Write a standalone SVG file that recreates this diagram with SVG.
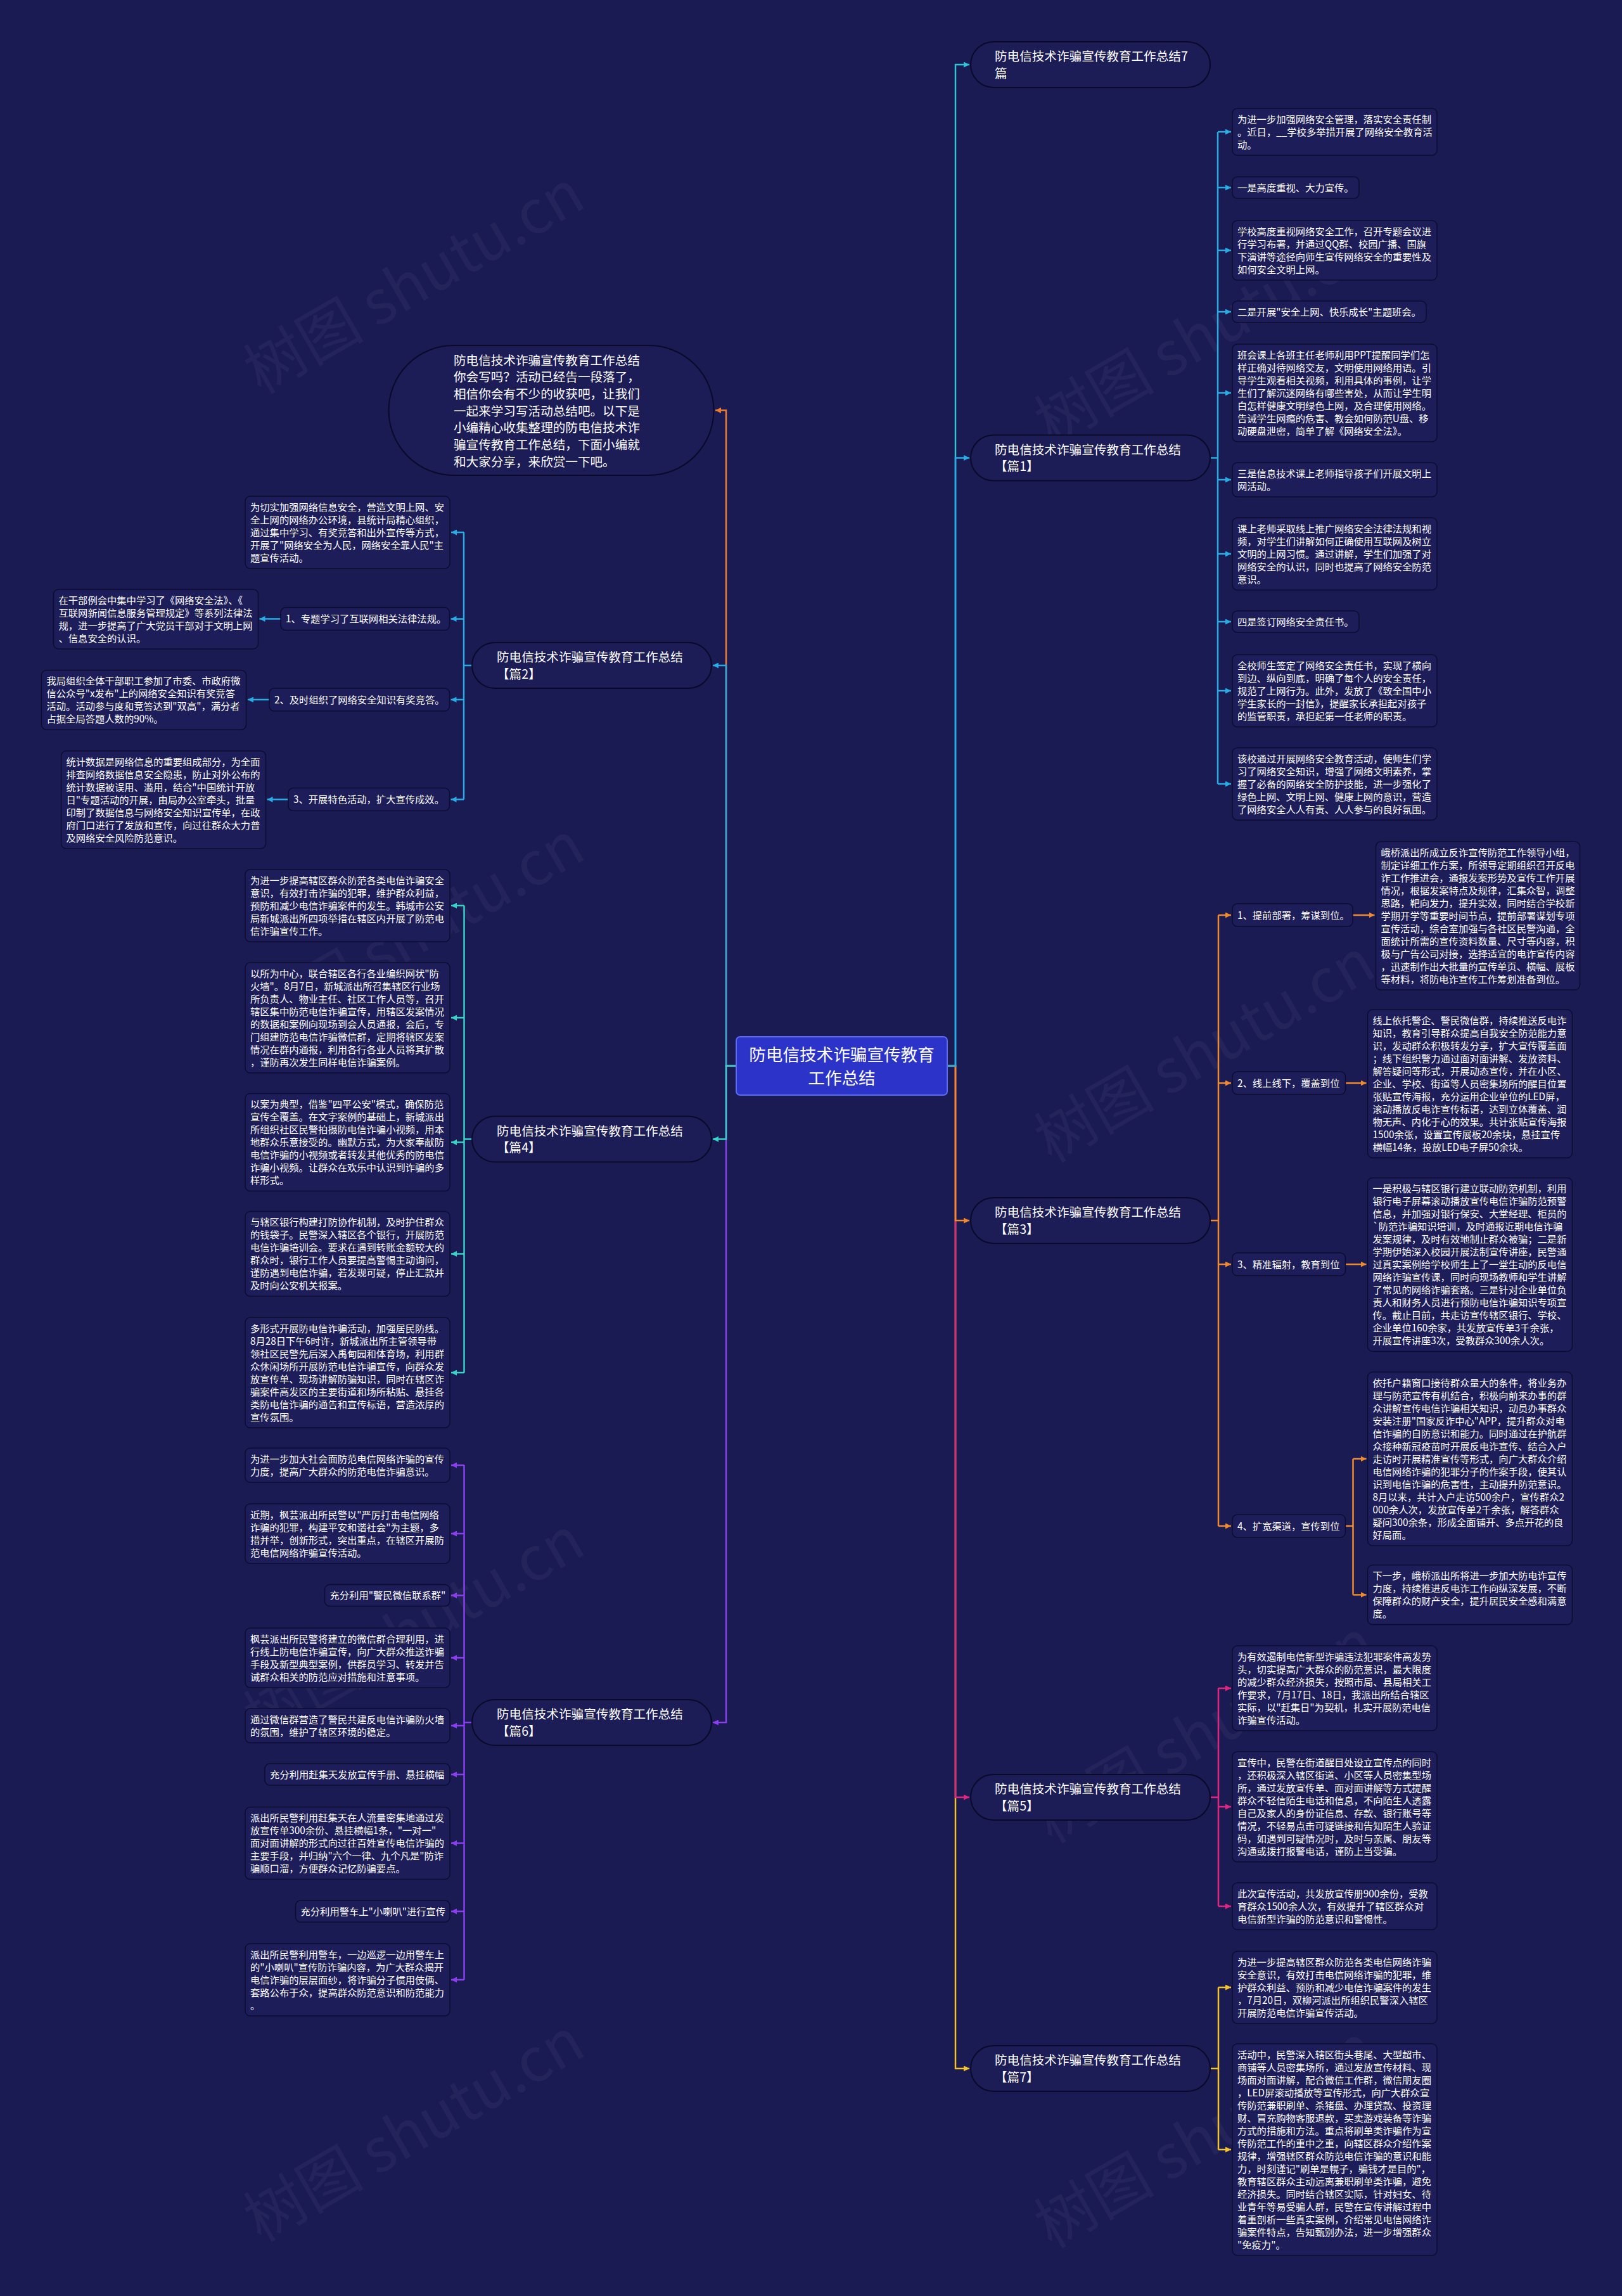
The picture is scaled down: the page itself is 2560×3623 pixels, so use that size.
<svg xmlns="http://www.w3.org/2000/svg" width="2560" height="3623" viewBox="0 0 2560 3623">
<style>
.t{font-family:"Noto Sans CJK SC","Noto Sans",sans-serif;font-size:15.3px;fill:#ffffff}
.l1{font-family:"Noto Sans CJK SC","Noto Sans",sans-serif;font-size:19.6px;fill:#ffffff}
.ct{font-family:"Noto Sans CJK SC","Noto Sans",sans-serif;font-size:26.6px;fill:#ffffff}
.box{fill:#1d1d5a;stroke:#0c0c30;stroke-width:1.5}
.pill{fill:#1c1c56;stroke:#0a0a28;stroke-width:2}
.wm{font-family:"Noto Sans CJK SC","Noto Sans",sans-serif;font-size:95px;fill:#ffffff;fill-opacity:0.045}
.conn path{fill:none;stroke-width:2.5}
.c-teal7{stroke:#31c3d6}.c-p1{stroke:#29abe4}.c-p3{stroke:#f08a2c}.c-p5{stroke:#e1267f}.c-p7{stroke:#f3c52a}
.c-in{stroke:#ee7c2f}.c-p2{stroke:#29abe4}.c-p4{stroke:#35d4c5}.c-p6{stroke:#8b3ef0}
</style>
<defs>
<marker id="a-teal7" viewBox="0 0 10 10" refX="10" refY="5" markerWidth="9" markerHeight="9" markerUnits="userSpaceOnUse" orient="auto"><path d="M0,0L10,5L0,10z" fill="#31c3d6"/></marker>
<marker id="a-p1" viewBox="0 0 10 10" refX="10" refY="5" markerWidth="9" markerHeight="9" markerUnits="userSpaceOnUse" orient="auto"><path d="M0,0L10,5L0,10z" fill="#29abe4"/></marker>
<marker id="a-p3" viewBox="0 0 10 10" refX="10" refY="5" markerWidth="9" markerHeight="9" markerUnits="userSpaceOnUse" orient="auto"><path d="M0,0L10,5L0,10z" fill="#f08a2c"/></marker>
<marker id="a-p5" viewBox="0 0 10 10" refX="10" refY="5" markerWidth="9" markerHeight="9" markerUnits="userSpaceOnUse" orient="auto"><path d="M0,0L10,5L0,10z" fill="#e1267f"/></marker>
<marker id="a-p7" viewBox="0 0 10 10" refX="10" refY="5" markerWidth="9" markerHeight="9" markerUnits="userSpaceOnUse" orient="auto"><path d="M0,0L10,5L0,10z" fill="#f3c52a"/></marker>
<marker id="a-in" viewBox="0 0 10 10" refX="10" refY="5" markerWidth="9" markerHeight="9" markerUnits="userSpaceOnUse" orient="auto"><path d="M0,0L10,5L0,10z" fill="#ee7c2f"/></marker>
<marker id="a-p4" viewBox="0 0 10 10" refX="10" refY="5" markerWidth="9" markerHeight="9" markerUnits="userSpaceOnUse" orient="auto"><path d="M0,0L10,5L0,10z" fill="#35d4c5"/></marker>
<marker id="a-p6" viewBox="0 0 10 10" refX="10" refY="5" markerWidth="9" markerHeight="9" markerUnits="userSpaceOnUse" orient="auto"><path d="M0,0L10,5L0,10z" fill="#8b3ef0"/></marker>
</defs>
<rect x="0" y="0" width="2560" height="3623" fill="#1b1b53"/>

<g id="watermark">
<text class="wm" transform="translate(670,474) rotate(-30)" text-anchor="middle">树图 shutu.cn</text>
<text class="wm" transform="translate(1918,555) rotate(-30)" text-anchor="middle">树图 shutu.cn</text>
<text class="wm" transform="translate(670,1502) rotate(-30)" text-anchor="middle">树图 shutu.cn</text>
<text class="wm" transform="translate(1918,1687) rotate(-30)" text-anchor="middle">树图 shutu.cn</text>
<text class="wm" transform="translate(670,2599) rotate(-30)" text-anchor="middle">树图 shutu.cn</text>
<text class="wm" transform="translate(1918,2761) rotate(-30)" text-anchor="middle">树图 shutu.cn</text>
<text class="wm" transform="translate(670,3390) rotate(-30)" text-anchor="middle">树图 shutu.cn</text>
<text class="wm" transform="translate(1918,3400) rotate(-30)" text-anchor="middle">树图 shutu.cn</text>
</g>

<g id="connectors" class="conn">
<path class="c-p7" d="M1495,1682H1508V3264H1530" marker-end="url(#a-p7)"/>
<path class="c-p5" d="M1495,1682H1508V2836H1530" marker-end="url(#a-p5)"/>
<path class="c-p3" d="M1495,1682H1508V1926H1530" marker-end="url(#a-p3)"/>
<path class="c-teal7" d="M1495,1682H1508V102H1530" marker-end="url(#a-teal7)"/>
<path class="c-p1" d="M1495,1682H1508V722.5H1530" marker-end="url(#a-p1)"/>
<path class="c-in" d="M1162,1682H1146V647.5H1129" marker-end="url(#a-in)"/>
<path class="c-p2" d="M1162,1682H1146V1050H1125" marker-end="url(#a-p1)"/>
<path class="c-p6" d="M1162,1682H1146V2718H1125" marker-end="url(#a-p6)"/>
<path class="c-p4" d="M1162,1682H1146V1797.5H1125" marker-end="url(#a-p4)"/>
<path class="c-p1" d="M1910,722.5H1922M1922,208V1237"/>
<path class="c-p1" d="M1922,208H1943" marker-end="url(#a-p1)"/>
<path class="c-p1" d="M1922,296H1943" marker-end="url(#a-p1)"/>
<path class="c-p1" d="M1922,395H1943" marker-end="url(#a-p1)"/>
<path class="c-p1" d="M1922,492H1943" marker-end="url(#a-p1)"/>
<path class="c-p1" d="M1922,620H1943" marker-end="url(#a-p1)"/>
<path class="c-p1" d="M1922,757H1943" marker-end="url(#a-p1)"/>
<path class="c-p1" d="M1922,874H1943" marker-end="url(#a-p1)"/>
<path class="c-p1" d="M1922,981H1943" marker-end="url(#a-p1)"/>
<path class="c-p1" d="M1922,1090H1943" marker-end="url(#a-p1)"/>
<path class="c-p1" d="M1922,1237H1943" marker-end="url(#a-p1)"/>
<path class="c-p3" d="M1910,1926H1923M1923,1444V2408"/>
<path class="c-p3" d="M1923,1444H1943" marker-end="url(#a-p3)"/>
<path class="c-p3" d="M1923,1709H1943" marker-end="url(#a-p3)"/>
<path class="c-p3" d="M1923,1995H1943" marker-end="url(#a-p3)"/>
<path class="c-p3" d="M1923,2408H1943" marker-end="url(#a-p3)"/>
<path class="c-p3" d="M2135,1444H2169.5" marker-end="url(#a-p3)"/>
<path class="c-p3" d="M2123.5,1709H2156.5" marker-end="url(#a-p3)"/>
<path class="c-p3" d="M2123.5,1995H2156.5" marker-end="url(#a-p3)"/>
<path class="c-p3" d="M2123.5,2408H2135.5M2135.5,2302V2516.5"/>
<path class="c-p3" d="M2135.5,2302H2156.5" marker-end="url(#a-p3)"/>
<path class="c-p3" d="M2135.5,2516.5H2156.5" marker-end="url(#a-p3)"/>
<path class="c-p5" d="M1910,2836H1923M1923,2664V3008"/>
<path class="c-p5" d="M1923,2664H1943" marker-end="url(#a-p5)"/>
<path class="c-p5" d="M1923,2851H1943" marker-end="url(#a-p5)"/>
<path class="c-p5" d="M1923,3008H1943" marker-end="url(#a-p5)"/>
<path class="c-p7" d="M1910,3264H1923M1923,3136V3392"/>
<path class="c-p7" d="M1923,3136H1943" marker-end="url(#a-p7)"/>
<path class="c-p7" d="M1923,3392H1943" marker-end="url(#a-p7)"/>
<path class="c-p2" d="M745,1050H732M732,840V1261.5"/>
<path class="c-p2" d="M732,840H712" marker-end="url(#a-p1)"/>
<path class="c-p2" d="M732,976.6H711.5" marker-end="url(#a-p1)"/>
<path class="c-p2" d="M732,1104H711.5" marker-end="url(#a-p1)"/>
<path class="c-p2" d="M732,1261.5H711.5" marker-end="url(#a-p1)"/>
<path class="c-p2" d="M443,976.6H409.5" marker-end="url(#a-p1)"/>
<path class="c-p2" d="M425,1104H391" marker-end="url(#a-p1)"/>
<path class="c-p2" d="M455,1261.5H421.5" marker-end="url(#a-p1)"/>
<path class="c-p4" d="M745,1797.5H732.5M732.5,1429V2166"/>
<path class="c-p4" d="M732.5,1429H712" marker-end="url(#a-p4)"/>
<path class="c-p4" d="M732.5,1606H712" marker-end="url(#a-p4)"/>
<path class="c-p4" d="M732.5,1802.5H712" marker-end="url(#a-p4)"/>
<path class="c-p4" d="M732.5,1978.5H712" marker-end="url(#a-p4)"/>
<path class="c-p4" d="M732.5,2166H712" marker-end="url(#a-p4)"/>
<path class="c-p6" d="M745,2718H732.5M732.5,2312V3124"/>
<path class="c-p6" d="M732.5,2312H712" marker-end="url(#a-p6)"/>
<path class="c-p6" d="M732.5,2420H712" marker-end="url(#a-p6)"/>
<path class="c-p6" d="M732.5,2517.5H712" marker-end="url(#a-p6)"/>
<path class="c-p6" d="M732.5,2616H712" marker-end="url(#a-p6)"/>
<path class="c-p6" d="M732.5,2723H712" marker-end="url(#a-p6)"/>
<path class="c-p6" d="M732.5,2800H712" marker-end="url(#a-p6)"/>
<path class="c-p6" d="M732.5,2908.5H712" marker-end="url(#a-p6)"/>
<path class="c-p6" d="M732.5,3016H712" marker-end="url(#a-p6)"/>
<path class="c-p6" d="M732.5,3124H712" marker-end="url(#a-p6)"/>
</g>

<g id="center">
<rect x="1162" y="1636" width="333" height="92" rx="6" fill="#2b33c8" stroke="#5d6cf2" stroke-width="2"/>
<text class="ct" text-anchor="middle"><tspan x="1328.5" y="1673.5">防电信技术诈骗宣传教育</tspan><tspan x="1328.5" y="1710.5">工作总结</tspan></text>
</g>

<g id="intro">
<rect class="pill" x="613.5" y="545" width="513" height="205" rx="102.5"/>
<text class="l1"><tspan x="716" y="575.6">防电信技术诈骗宣传教育工作总结</tspan><tspan x="716" y="602.3">你会写吗？活动已经告一段落了，</tspan><tspan x="716" y="629">相信你会有不少的收获吧，让我们</tspan><tspan x="716" y="655.6">一起来学习写活动总结吧。以下是</tspan><tspan x="716" y="682.3">小编精心收集整理的防电信技术诈</tspan><tspan x="716" y="709">骗宣传教育工作总结，下面小编就</tspan><tspan x="716" y="735.6">和大家分享，来欣赏一下吧。</tspan></text>
</g>

<g id="title7">
<rect class="pill" x="1532" y="66" width="378" height="72" rx="36"/>
<text class="l1"><tspan x="1570" y="96">防电信技术诈骗宣传教育工作总结7</tspan><tspan x="1570" y="122.6">篇</tspan></text>
</g>
<g id="p1">
<rect class="pill" x="1532" y="686.5" width="378" height="72" rx="36"/>
<text class="l1"><tspan x="1570" y="716.5">防电信技术诈骗宣传教育工作总结</tspan><tspan x="1570" y="743.1">【篇1】</tspan></text>
</g>
<g id="p3">
<rect class="pill" x="1532" y="1890" width="378" height="72" rx="36"/>
<text class="l1"><tspan x="1570" y="1920">防电信技术诈骗宣传教育工作总结</tspan><tspan x="1570" y="1946.6">【篇3】</tspan></text>
</g>
<g id="p5">
<rect class="pill" x="1532" y="2800" width="378" height="72" rx="36"/>
<text class="l1"><tspan x="1570" y="2830">防电信技术诈骗宣传教育工作总结</tspan><tspan x="1570" y="2856.6">【篇5】</tspan></text>
</g>
<g id="p7">
<rect class="pill" x="1532" y="3228" width="378" height="72" rx="36"/>
<text class="l1"><tspan x="1570" y="3258">防电信技术诈骗宣传教育工作总结</tspan><tspan x="1570" y="3284.6">【篇7】</tspan></text>
</g>
<g id="p2">
<rect class="pill" x="745" y="1014" width="378" height="72" rx="36"/>
<text class="l1"><tspan x="784" y="1044">防电信技术诈骗宣传教育工作总结</tspan><tspan x="784" y="1070.6">【篇2】</tspan></text>
</g>
<g id="p4">
<rect class="pill" x="745" y="1761.5" width="378" height="72" rx="36"/>
<text class="l1"><tspan x="784" y="1791.5">防电信技术诈骗宣传教育工作总结</tspan><tspan x="784" y="1818.1">【篇4】</tspan></text>
</g>
<g id="p6">
<rect class="pill" x="745" y="2682" width="378" height="72" rx="36"/>
<text class="l1"><tspan x="784" y="2712">防电信技术诈骗宣传教育工作总结</tspan><tspan x="784" y="2738.6">【篇6】</tspan></text>
</g>

<g id="p1-a"><rect class="box" x="1945" y="171" width="323" height="74" rx="8"/><text class="t"><tspan x="1953" y="193.5">为进一步加强网络安全管理，落实安全责任制</tspan><tspan x="1953" y="213.5">。近日，__学校多举措开展了网络安全教育活</tspan><tspan x="1953" y="233.5">动。</tspan></text></g>
<g id="p1-b"><rect class="box" x="1945" y="279" width="200" height="34" rx="8"/><text class="t"><tspan x="1953" y="301.5">一是高度重视、大力宣传。</tspan></text></g>
<g id="p1-c"><rect class="box" x="1945" y="348" width="323" height="94" rx="8"/><text class="t"><tspan x="1953" y="370.5">学校高度重视网络安全工作，召开专题会议进</tspan><tspan x="1953" y="390.5">行学习布署，并通过QQ群、校园广播、国旗</tspan><tspan x="1953" y="410.5">下演讲等途径向师生宣传网络安全的重要性及</tspan><tspan x="1953" y="430.5">如何安全文明上网。</tspan></text></g>
<g id="p1-d"><rect class="box" x="1945" y="475" width="306" height="34" rx="8"/><text class="t"><tspan x="1953" y="497.5">二是开展"安全上网、快乐成长"主题班会。</tspan></text></g>
<g id="p1-e"><rect class="box" x="1945" y="543" width="323" height="154" rx="8"/><text class="t"><tspan x="1953" y="565.5">班会课上各班主任老师利用PPT提醒同学们怎</tspan><tspan x="1953" y="585.5">样正确对待网络交友，文明使用网络用语。引</tspan><tspan x="1953" y="605.5">导学生观看相关视频，利用具体的事例，让学</tspan><tspan x="1953" y="625.5">生们了解沉迷网络有哪些害处，从而让学生明</tspan><tspan x="1953" y="645.5">白怎样健康文明绿色上网，及合理使用网络。</tspan><tspan x="1953" y="665.5">告诫学生网瘾的危害、教会如何防范U盘、移</tspan><tspan x="1953" y="685.5">动硬盘泄密，简单了解《网络安全法》。</tspan></text></g>
<g id="p1-f"><rect class="box" x="1945" y="730" width="323" height="54" rx="8"/><text class="t"><tspan x="1953" y="752.5">三是信息技术课上老师指导孩子们开展文明上</tspan><tspan x="1953" y="772.5">网活动。</tspan></text></g>
<g id="p1-g"><rect class="box" x="1945" y="817" width="323" height="114" rx="8"/><text class="t"><tspan x="1953" y="839.5">课上老师采取线上推广网络安全法律法规和视</tspan><tspan x="1953" y="859.5">频，对学生们讲解如何正确使用互联网及树立</tspan><tspan x="1953" y="879.5">文明的上网习惯。通过讲解，学生们加强了对</tspan><tspan x="1953" y="899.5">网络安全的认识，同时也提高了网络安全防范</tspan><tspan x="1953" y="919.5">意识。</tspan></text></g>
<g id="p1-h"><rect class="box" x="1945" y="964" width="200" height="34" rx="8"/><text class="t"><tspan x="1953" y="986.5">四是签订网络安全责任书。</tspan></text></g>
<g id="p1-i"><rect class="box" x="1945" y="1033" width="323" height="114" rx="8"/><text class="t"><tspan x="1953" y="1055.5">全校师生签定了网络安全责任书，实现了横向</tspan><tspan x="1953" y="1075.5">到边、纵向到底，明确了每个人的安全责任，</tspan><tspan x="1953" y="1095.5">规范了上网行为。此外，发放了《致全国中小</tspan><tspan x="1953" y="1115.5">学生家长的一封信》，提醒家长承担起对孩子</tspan><tspan x="1953" y="1135.5">的监管职责，承担起第一任老师的职责。</tspan></text></g>
<g id="p1-j"><rect class="box" x="1945" y="1180" width="323" height="114" rx="8"/><text class="t"><tspan x="1953" y="1202.5">该校通过开展网络安全教育活动，使师生们学</tspan><tspan x="1953" y="1222.5">习了网络安全知识，增强了网络文明素养，掌</tspan><tspan x="1953" y="1242.5">握了必备的网络安全防护技能，进一步强化了</tspan><tspan x="1953" y="1262.5">绿色上网、文明上网、健康上网的意识，营造</tspan><tspan x="1953" y="1282.5">了网络安全人人有责、人人参与的良好氛围。</tspan></text></g>

<g id="p3-n1"><rect class="box" x="1945" y="1426" width="190" height="36" rx="8"/><text class="t"><tspan x="1953" y="1449.7">1、提前部署，筹谋到位。</tspan></text></g>
<g id="p3-l1"><rect class="box" x="2171.5" y="1328" width="322" height="234" rx="8"/><text class="t"><tspan x="2179.5" y="1350.5">峨桥派出所成立反诈宣传防范工作领导小组，</tspan><tspan x="2179.5" y="1370.5">制定详细工作方案，所领导定期组织召开反电</tspan><tspan x="2179.5" y="1390.5">诈工作推进会，通报发案形势及宣传工作开展</tspan><tspan x="2179.5" y="1410.5">情况，根据发案特点及规律，汇集众智，调整</tspan><tspan x="2179.5" y="1430.5">思路，靶向发力，提升实效，同时结合学校新</tspan><tspan x="2179.5" y="1450.5">学期开学等重要时间节点，提前部署谋划专项</tspan><tspan x="2179.5" y="1470.5">宣传活动，综合室加强与各社区民警沟通，全</tspan><tspan x="2179.5" y="1490.5">面统计所需的宣传资料数量、尺寸等内容，积</tspan><tspan x="2179.5" y="1510.5">极与广告公司对接，选择适宜的电诈宣传内容</tspan><tspan x="2179.5" y="1530.5">，迅速制作出大批量的宣传单页、横幅、展板</tspan><tspan x="2179.5" y="1550.5">等材料，将防电诈宣传工作筹划准备到位。</tspan></text></g>
<g id="p3-n2"><rect class="box" x="1945" y="1691" width="178.5" height="36" rx="8"/><text class="t"><tspan x="1953" y="1714.7">2、线上线下，覆盖到位</tspan></text></g>
<g id="p3-l2"><rect class="box" x="2158.5" y="1593" width="323" height="234" rx="8"/><text class="t"><tspan x="2166.5" y="1615.5">线上依托警企、警民微信群，持续推送反电诈</tspan><tspan x="2166.5" y="1635.5">知识，教育引导群众提高自我安全防范能力意</tspan><tspan x="2166.5" y="1655.5">识，发动群众积极转发分享，扩大宣传覆盖面</tspan><tspan x="2166.5" y="1675.5">；线下组织警力通过面对面讲解、发放资料、</tspan><tspan x="2166.5" y="1695.5">解答疑问等形式，开展动态宣传，并在小区、</tspan><tspan x="2166.5" y="1715.5">企业、学校、街道等人员密集场所的醒目位置</tspan><tspan x="2166.5" y="1735.5">张贴宣传海报，充分运用企业单位的LED屏，</tspan><tspan x="2166.5" y="1755.5">滚动播放反电诈宣传标语，达到立体覆盖、润</tspan><tspan x="2166.5" y="1775.5">物无声、内化于心的效果。共计张贴宣传海报</tspan><tspan x="2166.5" y="1795.5">1500余张，设置宣传展板20余块，悬挂宣传</tspan><tspan x="2166.5" y="1815.5">横幅14条，投放LED电子屏50余块。</tspan></text></g>
<g id="p3-n3"><rect class="box" x="1945" y="1977" width="178.5" height="36" rx="8"/><text class="t"><tspan x="1953" y="2000.7">3、精准辐射，教育到位</tspan></text></g>
<g id="p3-l3"><rect class="box" x="2158.5" y="1858.5" width="323" height="274" rx="8"/><text class="t"><tspan x="2166.5" y="1881">一是积极与辖区银行建立联动防范机制，利用</tspan><tspan x="2166.5" y="1901">银行电子屏幕滚动播放宣传电信诈骗防范预警</tspan><tspan x="2166.5" y="1921">信息，并加强对银行保安、大堂经理、柜员的</tspan><tspan x="2166.5" y="1941">`防范诈骗知识培训，及时通报近期电信诈骗</tspan><tspan x="2166.5" y="1961">发案规律，及时有效地制止群众被骗；二是新</tspan><tspan x="2166.5" y="1981">学期伊始深入校园开展法制宣传讲座，民警通</tspan><tspan x="2166.5" y="2001">过真实案例给学校师生上了一堂生动的反电信</tspan><tspan x="2166.5" y="2021">网络诈骗宣传课，同时向现场教师和学生讲解</tspan><tspan x="2166.5" y="2041">了常见的网络诈骗套路。三是针对企业单位负</tspan><tspan x="2166.5" y="2061">责人和财务人员进行预防电信诈骗知识专项宣</tspan><tspan x="2166.5" y="2081">传。截止目前，共走访宣传辖区银行、学校、</tspan><tspan x="2166.5" y="2101">企业单位160余家，共发放宣传单3千余张，</tspan><tspan x="2166.5" y="2121">开展宣传讲座3次，受教群众300余人次。</tspan></text></g>
<g id="p3-n4"><rect class="box" x="1945" y="2390" width="178.5" height="36" rx="8"/><text class="t"><tspan x="1953" y="2413.7">4、扩宽渠道，宣传到位</tspan></text></g>
<g id="p3-l4a"><rect class="box" x="2158.5" y="2165" width="323" height="274" rx="8"/><text class="t"><tspan x="2166.5" y="2187.5">依托户籍窗口接待群众量大的条件，将业务办</tspan><tspan x="2166.5" y="2207.5">理与防范宣传有机结合，积极向前来办事的群</tspan><tspan x="2166.5" y="2227.5">众讲解宣传电信诈骗相关知识，动员办事群众</tspan><tspan x="2166.5" y="2247.5">安装注册"国家反诈中心"APP，提升群众对电</tspan><tspan x="2166.5" y="2267.5">信诈骗的自防意识和能力。同时通过在护航群</tspan><tspan x="2166.5" y="2287.5">众接种新冠疫苗时开展反电诈宣传、结合入户</tspan><tspan x="2166.5" y="2307.5">走访时开展精准宣传等形式，向广大群众介绍</tspan><tspan x="2166.5" y="2327.5">电信网络诈骗的犯罪分子的作案手段，使其认</tspan><tspan x="2166.5" y="2347.5">识到电信诈骗的危害性，主动提升防范意识。</tspan><tspan x="2166.5" y="2367.5">8月以来，共计入户走访500余户，宣传群众2</tspan><tspan x="2166.5" y="2387.5">000余人次，发放宣传单2千余张，解答群众</tspan><tspan x="2166.5" y="2407.5">疑问300余条，形成全面铺开、多点开花的良</tspan><tspan x="2166.5" y="2427.5">好局面。</tspan></text></g>
<g id="p3-l4b"><rect class="box" x="2158.5" y="2469.5" width="323" height="94" rx="8"/><text class="t"><tspan x="2166.5" y="2492">下一步，峨桥派出所将进一步加大防电诈宣传</tspan><tspan x="2166.5" y="2512">力度，持续推进反电诈工作向纵深发展，不断</tspan><tspan x="2166.5" y="2532">保障群众的财产安全，提升居民安全感和满意</tspan><tspan x="2166.5" y="2552">度。</tspan></text></g>

<g id="p5-a"><rect class="box" x="1945" y="2597" width="323" height="134" rx="8"/><text class="t"><tspan x="1953" y="2619.5">为有效遏制电信新型诈骗违法犯罪案件高发势</tspan><tspan x="1953" y="2639.5">头，切实提高广大群众的防范意识，最大限度</tspan><tspan x="1953" y="2659.5">的减少群众经济损失，按照市局、县局相关工</tspan><tspan x="1953" y="2679.5">作要求，7月17日、18日，我派出所结合辖区</tspan><tspan x="1953" y="2699.5">实际，以"赶集日"为契机，扎实开展防范电信</tspan><tspan x="1953" y="2719.5">诈骗宣传活动。</tspan></text></g>
<g id="p5-b"><rect class="box" x="1945" y="2764" width="323" height="174" rx="8"/><text class="t"><tspan x="1953" y="2786.5">宣传中，民警在街道醒目处设立宣传点的同时</tspan><tspan x="1953" y="2806.5">，还积极深入辖区街道、小区等人员密集型场</tspan><tspan x="1953" y="2826.5">所，通过发放宣传单、面对面讲解等方式提醒</tspan><tspan x="1953" y="2846.5">群众不轻信陌生电话和信息，不向陌生人透露</tspan><tspan x="1953" y="2866.5">自己及家人的身份证信息、存款、银行账号等</tspan><tspan x="1953" y="2886.5">情况，不轻易点击可疑链接和告知陌生人验证</tspan><tspan x="1953" y="2906.5">码，如遇到可疑情况时，及时与亲属、朋友等</tspan><tspan x="1953" y="2926.5">沟通或拨打报警电话，谨防上当受骗。</tspan></text></g>
<g id="p5-c"><rect class="box" x="1945" y="2971" width="323" height="74" rx="8"/><text class="t"><tspan x="1953" y="2993.5">此次宣传活动，共发放宣传册900余份，受教</tspan><tspan x="1953" y="3013.5">育群众1500余人次，有效提升了辖区群众对</tspan><tspan x="1953" y="3033.5">电信新型诈骗的防范意识和警惕性。</tspan></text></g>

<g id="p7-a"><rect class="box" x="1945" y="3079" width="323" height="114" rx="8"/><text class="t"><tspan x="1953" y="3101.5">为进一步提高辖区群众防范各类电信网络诈骗</tspan><tspan x="1953" y="3121.5">安全意识，有效打击电信网络诈骗的犯罪，维</tspan><tspan x="1953" y="3141.5">护群众利益、预防和减少电信诈骗案件的发生</tspan><tspan x="1953" y="3161.5">，7月20日，双柳河派出所组织民警深入辖区</tspan><tspan x="1953" y="3181.5">开展防范电信诈骗宣传活动。</tspan></text></g>
<g id="p7-b"><rect class="box" x="1945" y="3225" width="323" height="334" rx="8"/><text class="t"><tspan x="1953" y="3247.5">活动中，民警深入辖区街头巷尾、大型超市、</tspan><tspan x="1953" y="3267.5">商铺等人员密集场所，通过发放宣传材料、现</tspan><tspan x="1953" y="3287.5">场面对面讲解，配合微信工作群，微信朋友圈</tspan><tspan x="1953" y="3307.5">，LED屏滚动播放等宣传形式，向广大群众宣</tspan><tspan x="1953" y="3327.5">传防范兼职刷单、杀猪盘、办理贷款、投资理</tspan><tspan x="1953" y="3347.5">财、冒充购物客服退款，买卖游戏装备等诈骗</tspan><tspan x="1953" y="3367.5">方式的措施和方法。重点将刷单类诈骗作为宣</tspan><tspan x="1953" y="3387.5">传防范工作的重中之重，向辖区群众介绍作案</tspan><tspan x="1953" y="3407.5">规律，增强辖区群众防范电信诈骗的意识和能</tspan><tspan x="1953" y="3427.5">力，时刻谨记"刷单是幌子，骗钱才是目的"，</tspan><tspan x="1953" y="3447.5">教育辖区群众主动远离兼职刷单类诈骗，避免</tspan><tspan x="1953" y="3467.5">经济损失。同时结合辖区实际，针对妇女、待</tspan><tspan x="1953" y="3487.5">业青年等易受骗人群，民警在宣传讲解过程中</tspan><tspan x="1953" y="3507.5">着重剖析一些真实案例，介绍常见电信网络诈</tspan><tspan x="1953" y="3527.5">骗案件特点，告知甄别办法，进一步增强群众</tspan><tspan x="1953" y="3547.5">"免疫力"。</tspan></text></g>

<g id="p2-a"><rect class="box" x="387" y="783" width="323" height="114" rx="8"/><text class="t"><tspan x="395" y="805.5">为切实加强网络信息安全，营造文明上网、安</tspan><tspan x="395" y="825.5">全上网的网络办公环境，县统计局精心组织，</tspan><tspan x="395" y="845.5">通过集中学习、有奖竞答和出外宣传等方式，</tspan><tspan x="395" y="865.5">开展了"网络安全为人民，网络安全靠人民"主</tspan><tspan x="395" y="885.5">题宣传活动。</tspan></text></g>
<g id="p2-n1"><rect class="box" x="443" y="958.6" width="266.5" height="36" rx="8"/><text class="t"><tspan x="451" y="982.3">1、专题学习了互联网相关法律法规。</tspan></text></g>
<g id="p2-l1"><rect class="box" x="84.5" y="930" width="323" height="94" rx="8"/><text class="t"><tspan x="92.5" y="952.5">在干部例会中集中学习了《网络安全法》、《</tspan><tspan x="92.5" y="972.5">互联网新闻信息服务管理规定》等系列法律法</tspan><tspan x="92.5" y="992.5">规，进一步提高了广大党员干部对于文明上网</tspan><tspan x="92.5" y="1012.5">、信息安全的认识。</tspan></text></g>
<g id="p2-n2"><rect class="box" x="425" y="1086" width="284.5" height="36" rx="8"/><text class="t"><tspan x="433" y="1109.7">2、及时组织了网络安全知识有奖竞答。</tspan></text></g>
<g id="p2-l2"><rect class="box" x="65.5" y="1057.5" width="323" height="94" rx="8"/><text class="t"><tspan x="73.5" y="1080">我局组织全体干部职工参加了市委、市政府微</tspan><tspan x="73.5" y="1100">信公众号"x发布"上的网络安全知识有奖竞答</tspan><tspan x="73.5" y="1120">活动。活动参与度和竞答达到"双高"，满分者</tspan><tspan x="73.5" y="1140">占据全局答题人数的90%。</tspan></text></g>
<g id="p2-n3"><rect class="box" x="455" y="1243.5" width="254.5" height="36" rx="8"/><text class="t"><tspan x="463" y="1267.2">3、开展特色活动，扩大宣传成效。</tspan></text></g>
<g id="p2-l3"><rect class="box" x="96.5" y="1185" width="323" height="154" rx="8"/><text class="t"><tspan x="104.5" y="1207.5">统计数据是网络信息的重要组成部分，为全面</tspan><tspan x="104.5" y="1227.5">排查网络数据信息安全隐患，防止对外公布的</tspan><tspan x="104.5" y="1247.5">统计数据被误用、滥用，结合"中国统计开放</tspan><tspan x="104.5" y="1267.5">日"专题活动的开展，由局办公室牵头，批量</tspan><tspan x="104.5" y="1287.5">印制了数据信息与网络安全知识宣传单，在政</tspan><tspan x="104.5" y="1307.5">府门口进行了发放和宣传，向过往群众大力普</tspan><tspan x="104.5" y="1327.5">及网络安全风险防范意识。</tspan></text></g>

<g id="p4-a"><rect class="box" x="387" y="1372" width="323" height="114" rx="8"/><text class="t"><tspan x="395" y="1394.5">为进一步提高辖区群众防范各类电信诈骗安全</tspan><tspan x="395" y="1414.5">意识，有效打击诈骗的犯罪，维护群众利益，</tspan><tspan x="395" y="1434.5">预防和减少电信诈骗案件的发生。韩城市公安</tspan><tspan x="395" y="1454.5">局新城派出所四项举措在辖区内开展了防范电</tspan><tspan x="395" y="1474.5">信诈骗宣传工作。</tspan></text></g>
<g id="p4-b"><rect class="box" x="387" y="1519" width="323" height="174" rx="8"/><text class="t"><tspan x="395" y="1541.5">以所为中心，联合辖区各行各业编织网状"防</tspan><tspan x="395" y="1561.5">火墙"。8月7日，新城派出所召集辖区行业场</tspan><tspan x="395" y="1581.5">所负责人、物业主任、社区工作人员等，召开</tspan><tspan x="395" y="1601.5">辖区集中防范电信诈骗宣传，用辖区发案情况</tspan><tspan x="395" y="1621.5">的数据和案例向现场到会人员通报，会后，专</tspan><tspan x="395" y="1641.5">门组建防范电信诈骗微信群，定期将辖区发案</tspan><tspan x="395" y="1661.5">情况在群内通报，利用各行各业人员将其扩散</tspan><tspan x="395" y="1681.5">，谨防再次发生同样电信诈骗案例。</tspan></text></g>
<g id="p4-c"><rect class="box" x="387" y="1725.5" width="323" height="154" rx="8"/><text class="t"><tspan x="395" y="1748">以案为典型，借鉴"四平公安"模式，确保防范</tspan><tspan x="395" y="1768">宣传全覆盖。在文字案例的基础上，新城派出</tspan><tspan x="395" y="1788">所组织社区民警拍摄防电信诈骗小视频，用本</tspan><tspan x="395" y="1808">地群众乐意接受的。幽默方式，为大家奉献防</tspan><tspan x="395" y="1828">电信诈骗的小视频或者转发其他优秀的防电信</tspan><tspan x="395" y="1848">诈骗小视频。让群众在欢乐中认识到诈骗的多</tspan><tspan x="395" y="1868">样形式。</tspan></text></g>
<g id="p4-d"><rect class="box" x="387" y="1911.5" width="323" height="134" rx="8"/><text class="t"><tspan x="395" y="1934">与辖区银行构建打防协作机制，及时护住群众</tspan><tspan x="395" y="1954">的钱袋子。民警深入辖区各个银行，开展防范</tspan><tspan x="395" y="1974">电信诈骗培训会。要求在遇到转账金额较大的</tspan><tspan x="395" y="1994">群众时，银行工作人员要提高警惕主动询问，</tspan><tspan x="395" y="2014">谨防遇到电信诈骗，若发现可疑，停止汇款并</tspan><tspan x="395" y="2034">及时向公安机关报案。</tspan></text></g>
<g id="p4-e"><rect class="box" x="387" y="2079" width="323" height="174" rx="8"/><text class="t"><tspan x="395" y="2101.5">多形式开展防电信诈骗活动，加强居民防线。</tspan><tspan x="395" y="2121.5">8月28日下午6时许，新城派出所主管领导带</tspan><tspan x="395" y="2141.5">领社区民警先后深入禹甸园和体育场，利用群</tspan><tspan x="395" y="2161.5">众休闲场所开展防范电信诈骗宣传，向群众发</tspan><tspan x="395" y="2181.5">放宣传单、现场讲解防骗知识，同时在辖区诈</tspan><tspan x="395" y="2201.5">骗案件高发区的主要街道和场所粘贴、悬挂各</tspan><tspan x="395" y="2221.5">类防电信诈骗的通告和宣传标语，营造浓厚的</tspan><tspan x="395" y="2241.5">宣传氛围。</tspan></text></g>

<g id="p6-a"><rect class="box" x="387" y="2285" width="323" height="54" rx="8"/><text class="t"><tspan x="395" y="2307.5">为进一步加大社会面防范电信网络诈骗的宣传</tspan><tspan x="395" y="2327.5">力度，提高广大群众的防范电信诈骗意识。</tspan></text></g>
<g id="p6-b"><rect class="box" x="387" y="2373" width="323" height="94" rx="8"/><text class="t"><tspan x="395" y="2395.5">近期，枫芸派出所民警以"严厉打击电信网络</tspan><tspan x="395" y="2415.5">诈骗的犯罪，构建平安和谐社会"为主题，多</tspan><tspan x="395" y="2435.5">措并举，创新形式，突出重点，在辖区开展防</tspan><tspan x="395" y="2455.5">范电信网络诈骗宣传活动。</tspan></text></g>
<g id="p6-c"><rect class="box" x="512.5" y="2500.5" width="197.5" height="34" rx="8"/><text class="t"><tspan x="520.5" y="2523">充分利用"警民微信联系群"</tspan></text></g>
<g id="p6-d"><rect class="box" x="387" y="2569" width="323" height="94" rx="8"/><text class="t"><tspan x="395" y="2591.5">枫芸派出所民警将建立的微信群合理利用，进</tspan><tspan x="395" y="2611.5">行线上防电信诈骗宣传，向广大群众推送诈骗</tspan><tspan x="395" y="2631.5">手段及新型典型案例，供群员学习、转发并告</tspan><tspan x="395" y="2651.5">诫群众相关的防范应对措施和注意事项。</tspan></text></g>
<g id="p6-e"><rect class="box" x="387" y="2696" width="323" height="54" rx="8"/><text class="t"><tspan x="395" y="2718.5">通过微信群营造了警民共建反电信诈骗防火墙</tspan><tspan x="395" y="2738.5">的氛围，维护了辖区环境的稳定。</tspan></text></g>
<g id="p6-f"><rect class="box" x="418" y="2783" width="292" height="34" rx="8"/><text class="t"><tspan x="426" y="2805.5">充分利用赶集天发放宣传手册、悬挂横幅</tspan></text></g>
<g id="p6-g"><rect class="box" x="387" y="2851.5" width="323" height="114" rx="8"/><text class="t"><tspan x="395" y="2874">派出所民警利用赶集天在人流量密集地通过发</tspan><tspan x="395" y="2894">放宣传单300余份、悬挂横幅1条，"一对一"</tspan><tspan x="395" y="2914">面对面讲解的形式向过往百姓宣传电信诈骗的</tspan><tspan x="395" y="2934">主要手段，并归纳"六个一律、九个凡是"防诈</tspan><tspan x="395" y="2954">骗顺口溜，方便群众记忆防骗要点。</tspan></text></g>
<g id="p6-h"><rect class="box" x="466.5" y="2999" width="243.5" height="34" rx="8"/><text class="t"><tspan x="474.5" y="3021.5">充分利用警车上"小喇叭"进行宣传</tspan></text></g>
<g id="p6-i"><rect class="box" x="387" y="3067" width="323" height="114" rx="8"/><text class="t"><tspan x="395" y="3089.5">派出所民警利用警车，一边巡逻一边用警车上</tspan><tspan x="395" y="3109.5">的"小喇叭"宣传防诈骗内容，为广大群众揭开</tspan><tspan x="395" y="3129.5">电信诈骗的层层面纱，将诈骗分子惯用伎俩、</tspan><tspan x="395" y="3149.5">套路公布于众，提高群众防范意识和防范能力</tspan><tspan x="395" y="3169.5">。</tspan></text></g>
</svg>
